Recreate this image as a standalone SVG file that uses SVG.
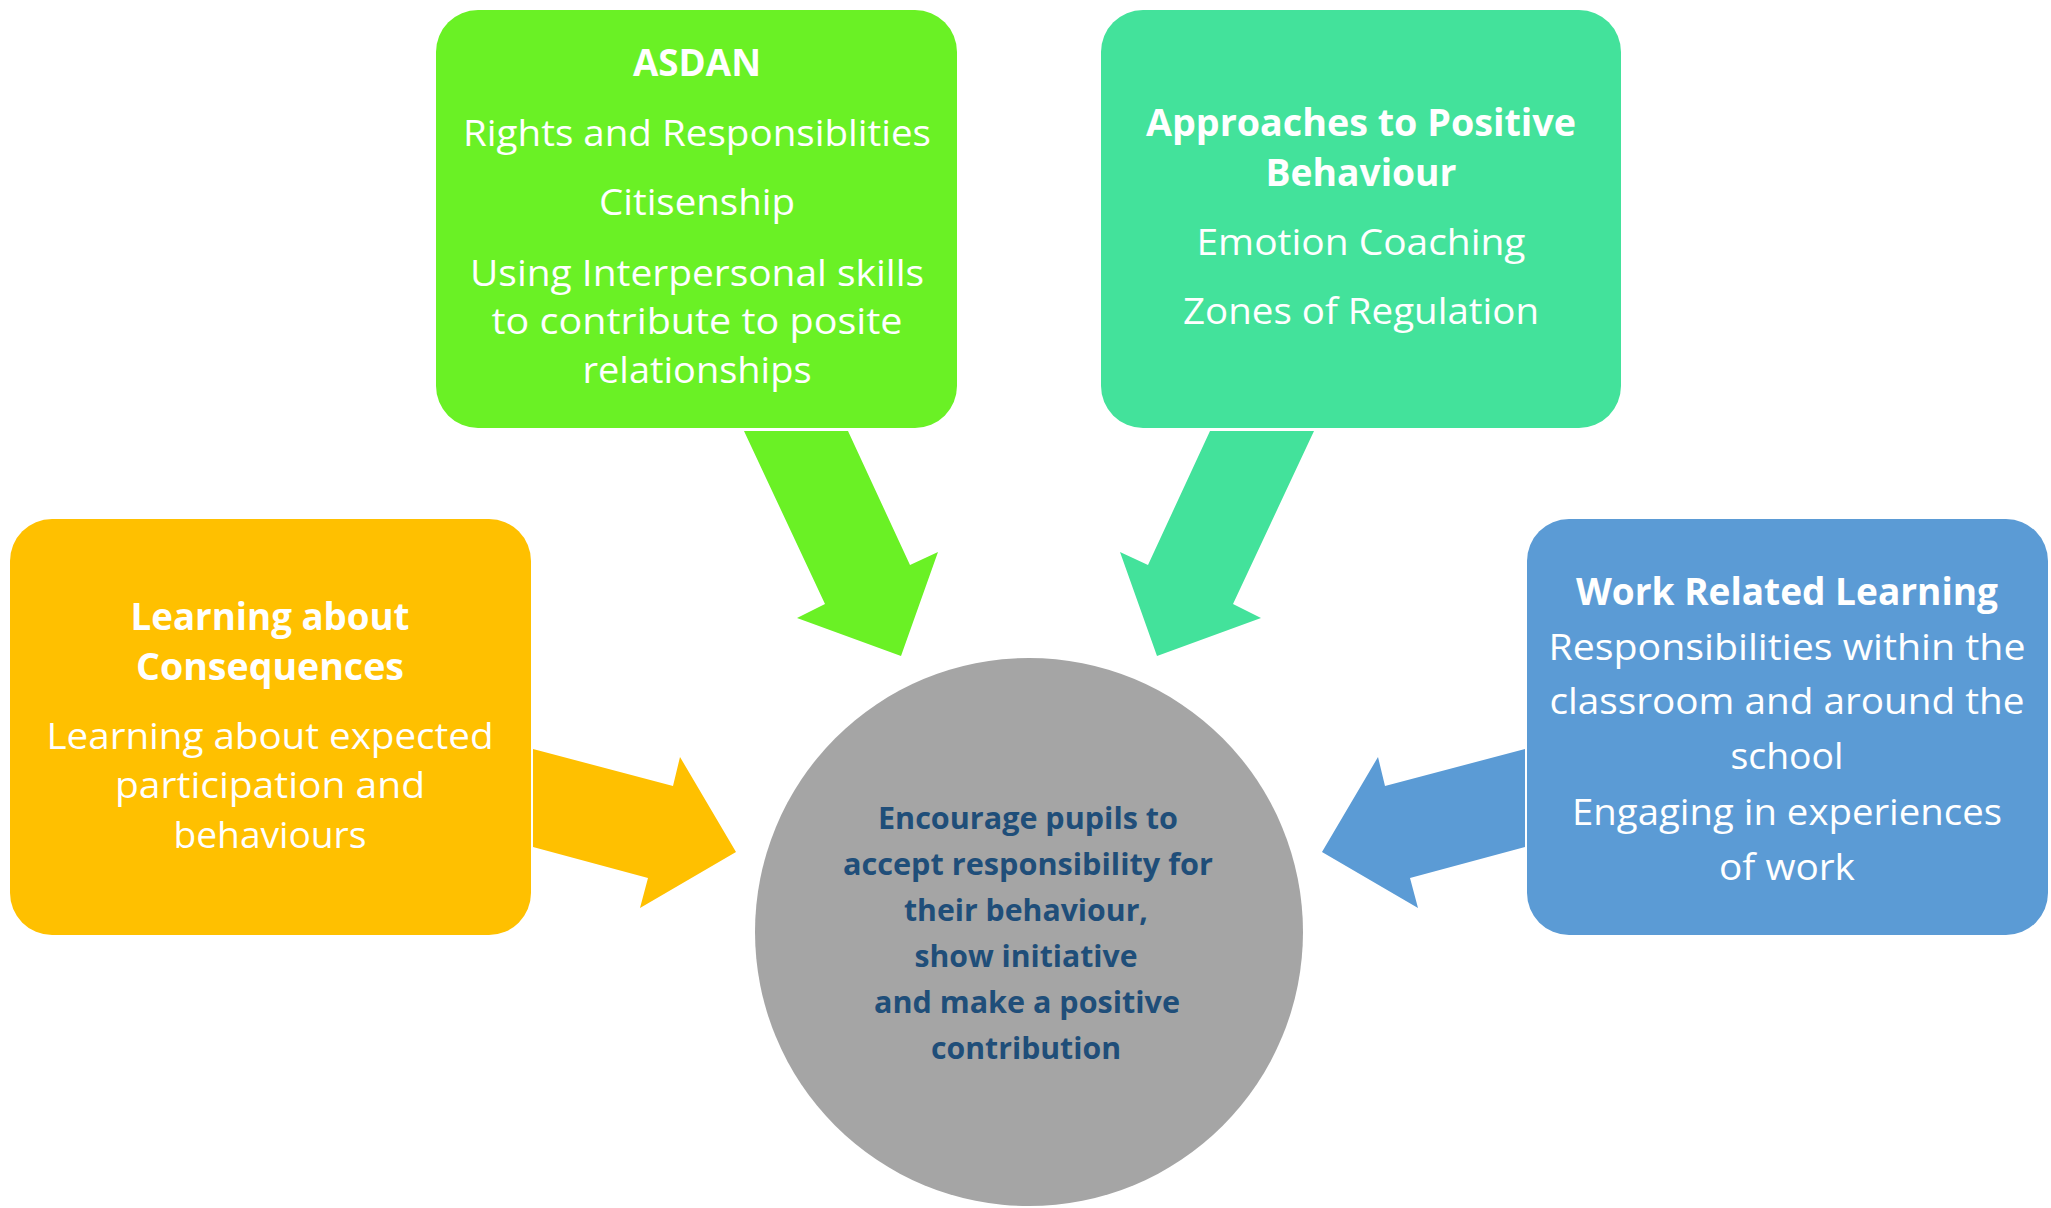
<svg xmlns="http://www.w3.org/2000/svg" width="2051" height="1208" viewBox="0 0 2051 1208">
<style>
.t{font-family:"Open Sans","Liberation Sans",sans-serif;fill:#fff;text-anchor:middle;font-size:36px}
.b{font-weight:bold;font-size:37px}
.c{font-family:"Open Sans","Liberation Sans",sans-serif;fill:#1F4E79;text-anchor:middle;font-weight:bold;font-size:31px}
</style>
<rect width="2051" height="1208" fill="#fff"/>
<g id="connectors">
<polygon fill="#6AF125" points="744,431 848,431 910,565 938,552 901,656 797,618 825,604"/>
<polygon fill="#43E29B" points="1210,431 1314,431 1233,604 1261,618 1157,656 1120,552 1148,565"/>
<polygon fill="#FFC000" points="533,749 673,786 680,757 736,852 640,908 648,878 533,847"/>
<polygon fill="#5B9BD5" points="1525,749 1385,786 1378,757 1322,852 1418,908 1410,878 1525,847"/>
</g>
<g id="asdan">
<rect x="436" y="10" width="521" height="418" rx="42" fill="#6AF125"/>
<text class="t b" x="697" y="76" textLength="128" lengthAdjust="spacingAndGlyphs">ASDAN</text>
<text class="t" x="697" y="146" textLength="468" lengthAdjust="spacingAndGlyphs">Rights and Responsiblities</text>
<text class="t" x="697" y="215" textLength="196" lengthAdjust="spacingAndGlyphs">Citisenship</text>
<text class="t" x="697" y="286" textLength="454" lengthAdjust="spacingAndGlyphs">Using Interpersonal skills</text>
<text class="t" x="697" y="334" textLength="411" lengthAdjust="spacingAndGlyphs">to contribute to posite</text>
<text class="t" x="697" y="383" textLength="229" lengthAdjust="spacingAndGlyphs">relationships</text>
</g>
<g id="approaches">
<rect x="1101" y="10" width="520" height="418" rx="42" fill="#43E29B"/>
<text class="t b" x="1361" y="136" textLength="430" lengthAdjust="spacingAndGlyphs">Approaches to Positive</text>
<text class="t b" x="1361" y="186" textLength="191" lengthAdjust="spacingAndGlyphs">Behaviour</text>
<text class="t" x="1361" y="255" textLength="329" lengthAdjust="spacingAndGlyphs">Emotion Coaching</text>
<text class="t" x="1361" y="324" textLength="356" lengthAdjust="spacingAndGlyphs">Zones of Regulation</text>
</g>
<g id="consequences">
<rect x="10" y="519" width="521" height="416" rx="42" fill="#FFC000"/>
<text class="t b" x="270" y="630" textLength="279" lengthAdjust="spacingAndGlyphs">Learning about</text>
<text class="t b" x="270" y="680" textLength="268" lengthAdjust="spacingAndGlyphs">Consequences</text>
<text class="t" x="270" y="749" textLength="447" lengthAdjust="spacingAndGlyphs">Learning about expected</text>
<text class="t" x="270" y="798" textLength="310" lengthAdjust="spacingAndGlyphs">participation and</text>
<text class="t" x="270" y="848" textLength="193" lengthAdjust="spacingAndGlyphs">behaviours</text>
</g>
<g id="work">
<rect x="1527" y="519" width="521" height="416" rx="42" fill="#5B9BD5"/>
<text class="t b" x="1787" y="605" textLength="422" lengthAdjust="spacingAndGlyphs">Work Related Learning</text>
<text class="t" x="1787" y="660" textLength="477" lengthAdjust="spacingAndGlyphs">Responsibilities within the</text>
<text class="t" x="1787" y="714" textLength="475" lengthAdjust="spacingAndGlyphs">classroom and around the</text>
<text class="t" x="1787" y="769" textLength="113" lengthAdjust="spacingAndGlyphs">school</text>
<text class="t" x="1787" y="825" textLength="430" lengthAdjust="spacingAndGlyphs">Engaging in experiences</text>
<text class="t" x="1787" y="880" textLength="136" lengthAdjust="spacingAndGlyphs">of work</text>
</g>
<g id="centre">
<circle cx="1029" cy="932" r="274" fill="#A5A5A5"/>
<text class="c" x="1028" y="829" textLength="300" lengthAdjust="spacingAndGlyphs">Encourage pupils to</text>
<text class="c" x="1028" y="875" textLength="370" lengthAdjust="spacingAndGlyphs">accept responsibility for</text>
<text class="c" x="1026" y="921" textLength="244" lengthAdjust="spacingAndGlyphs">their behaviour,</text>
<text class="c" x="1026" y="967" textLength="223" lengthAdjust="spacingAndGlyphs">show initiative</text>
<text class="c" x="1027" y="1013" textLength="306" lengthAdjust="spacingAndGlyphs">and make a positive</text>
<text class="c" x="1026" y="1059" textLength="190" lengthAdjust="spacingAndGlyphs">contribution</text>
</g>
</svg>
